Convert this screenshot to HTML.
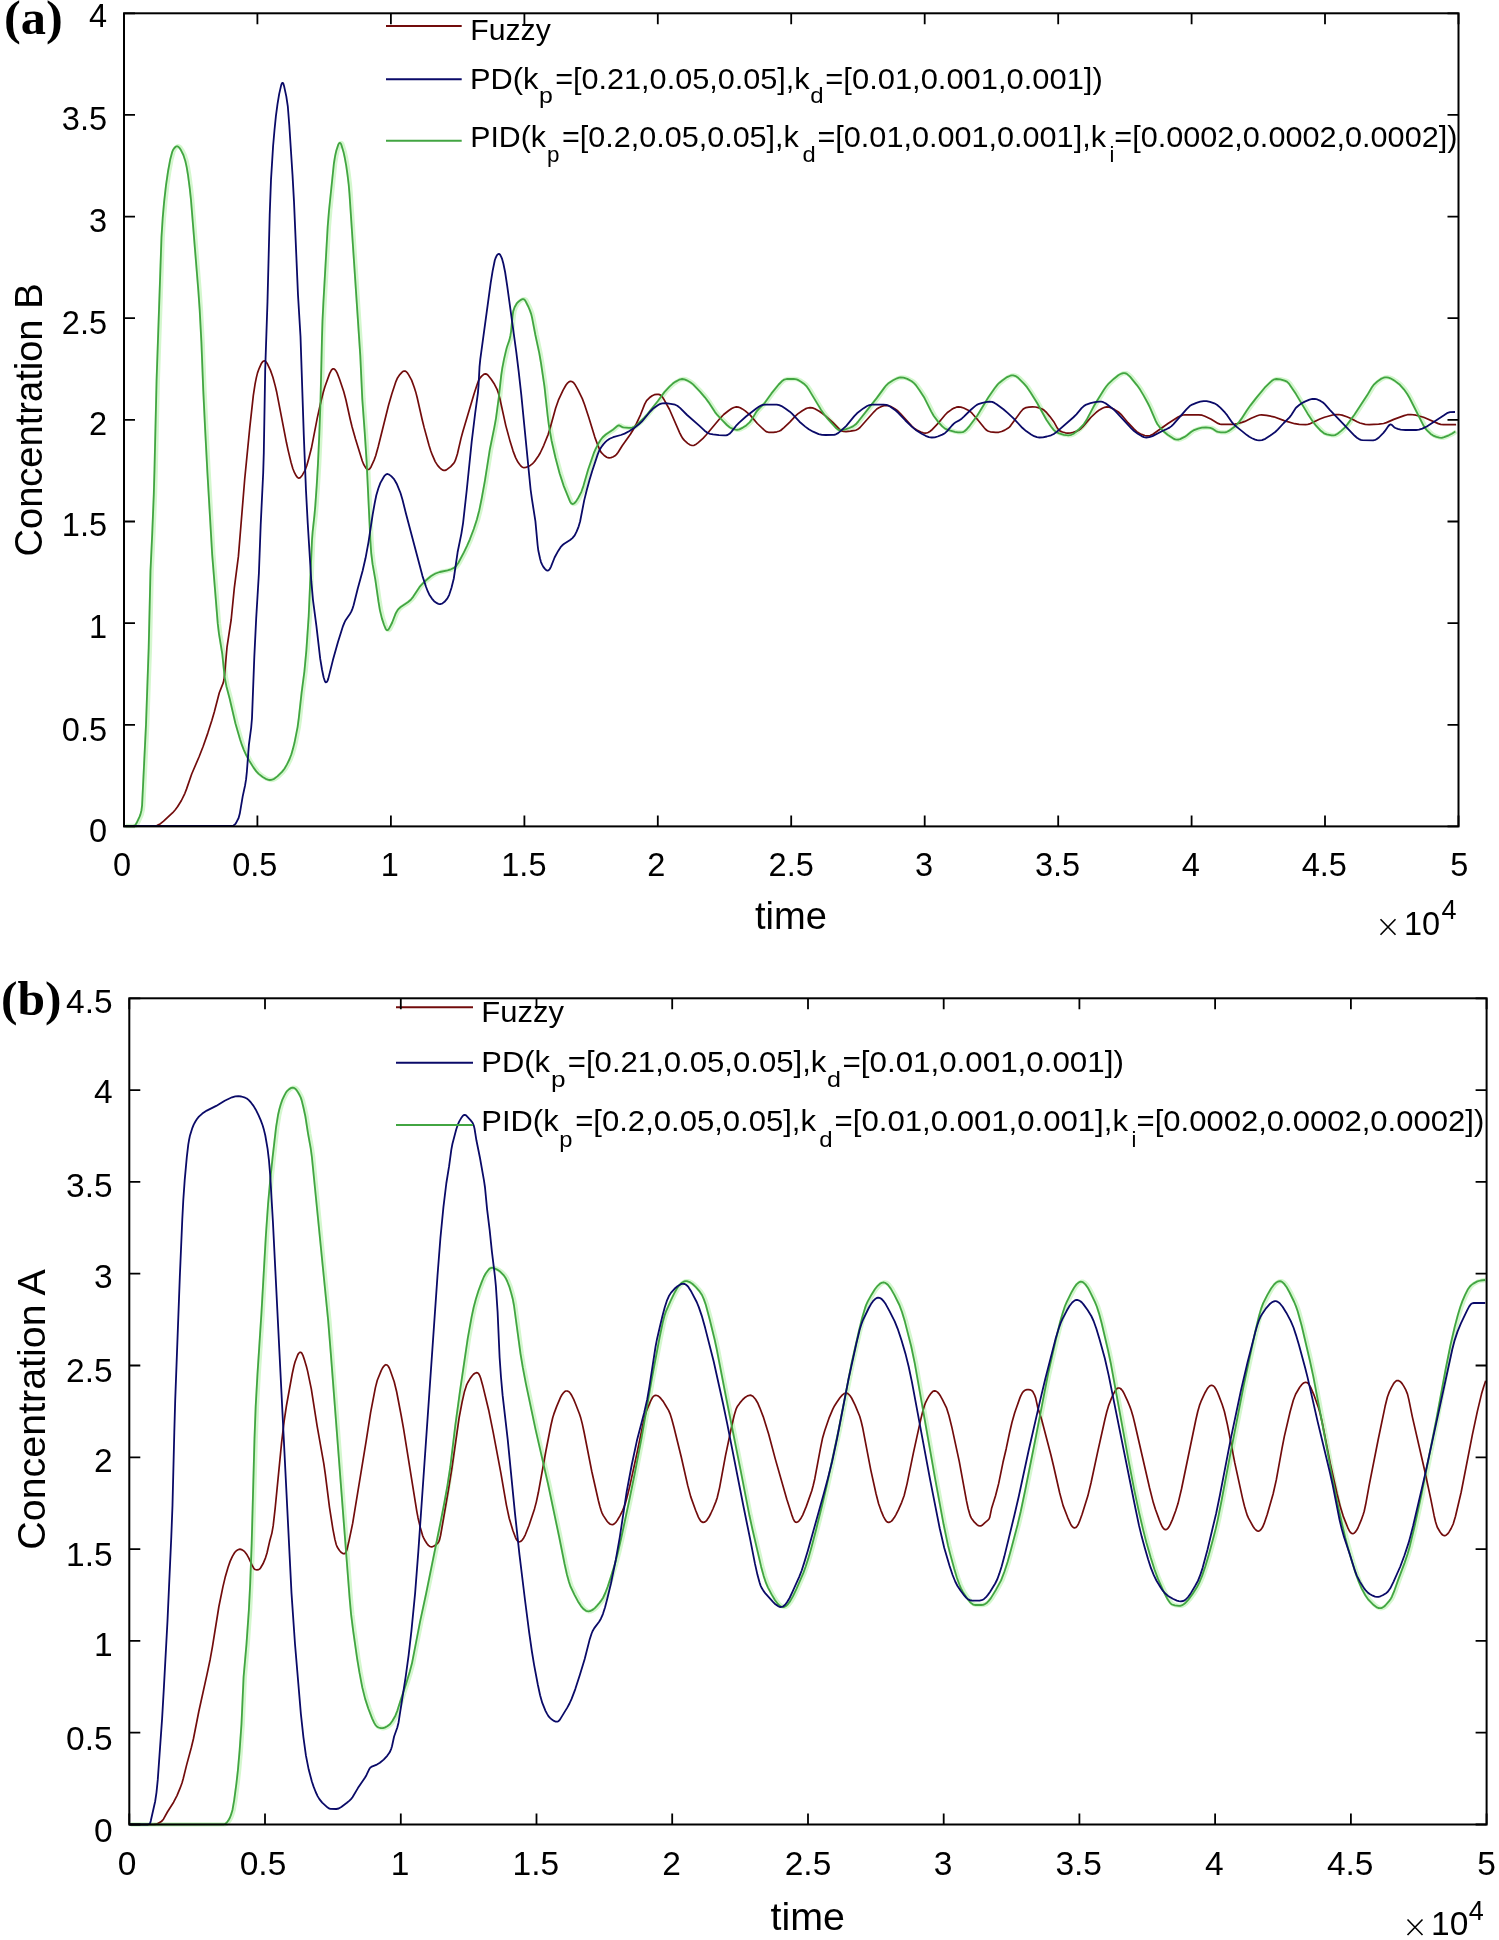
<!DOCTYPE html><html><head><meta charset="utf-8"><style>html,body{margin:0;padding:0;background:#fff;}svg{display:block;}text{-webkit-font-smoothing:antialiased;}text{font-family:"Liberation Sans",sans-serif;fill:#000;}.serif{font-family:"Liberation Serif",serif;font-weight:bold;}</style></head><body>
<svg width="1499" height="1940" viewBox="0 0 1499 1940" style="will-change:transform">
<rect width="1499" height="1940" fill="#fff"/>
<defs>
<path id="a0" d="M124.5 826.0l29 0l2 -.2l1.4 -.3l3.6 -1.8l3.1 -2.5l9.1 -8.5l2.6 -3l2.4 -3.2l3.7 -6l3.5 -7.2l1.6 -4.2l5.2 -15.1l7.5 -17.5l4 -10.2l4.6 -13.2l4.1 -12.9l2.4 -8.2l5 -19.3l3.9 -9.8l.8 -3.4l.5 -3.9l2.5 -28.4l4.2 -27.7l3.1 -31.3l4.1 -31.8l6.3 -77.2l5.1 -51.8l3.5 -31.8l1.8 -11.8l1.3 -6.4l1.2 -4.8l1.6 -4.3l2 -4.5l1.4 -2.1l1.1 -.7l.8 -.1l1.2 .5l1.7 2.4l3 6.3l2.5 7.1l2.2 8.2l1.5 6.3l9.9 51.1l1.7 7.8l2.8 11.6l1.8 6.3l1.7 4.2l1.4 2.6l1.1 1.6l1 .9l.8 .3l.9 -.2l.7 -.4l1.9 -2.3l2.7 -4.8l1.9 -5.2l2 -7.2l2.5 -9.7l5.9 -30.4l3.6 -16.1l2.3 -9.2l1.7 -5.8l4.7 -13.2l1.8 -3.5l1 -1l.8 -.3l.8 .1l1.1 .8l.9 1.2l1.2 2.2l2.2 5.6l4.3 12.8l2.2 8.2l4.3 19.5l1.9 7.8l3.4 12l6.8 22l1.3 3.2l2 3.4l1.3 1.5l1.2 .4l.8 -.1l.7 -.5l1.4 -2l3.1 -6.8l1.6 -4.3l2.5 -9.1l10.4 -41.7l3.2 -11.1l4.1 -12.3l1.6 -3.7l2.3 -3.3l2.3 -2.5l1.2 -.8l.9 -.3l.9 .1l1.2 .6l1 1.1l1.4 2.1l2.9 5.2l2.6 7.1l1.5 4.7l1.4 5.3l5.1 22.5l1.9 7.7l4.9 17.9l1.8 5.7l1.6 4.2l2.8 6.4l2.4 3.8l2 2.2l1.9 1.7l1.2 .8l1.4 .3l.9 0l1.4 -.5l4.3 -3.3l2.7 -2.9l1.2 -1.7l.8 -1.8l2 -6.2l3.6 -15.6l1.8 -6.7l11.3 -37.9l3.1 -9.5l1.6 -4.2l1.6 -2.5l1.3 -1.5l1.5 -1.3l1.2 -.7l.9 -.2l1.4 .3l1.1 .8l3.4 4.3l3.3 5l2.7 5.4l1.3 3.8l1.4 5.3l5.9 26.8l4.5 16.5l2.8 9l2.5 6.5l2.3 4.5l1.8 2.4l1.6 1.9l1.2 .8l1.4 .4l1.9 -.2l1.9 -.7l2.6 -1.3l2 -1.5l1.4 -1.4l1.9 -2.4l2.8 -4.1l1.8 -3l3.6 -7.7l4.3 -10.7l2.2 -7.1l5.3 -19.3l2.8 -8l4.7 -10l2.9 -5.2l1.2 -1.6l1.5 -1.3l1.2 -.7l.9 -.1l.9 .2l1.3 .7l1 1l1.2 1.6l2.7 4.8l4.4 9l2.3 6.1l4.2 12.8l6 19.6l3.3 8.9l1.8 4.2l1.5 2.5l2.8 2.8l2.5 1.7l1.3 .5l1 .1l1.9 -.2l1.9 -.6l2.2 -1.2l1.5 -1.4l1.5 -1.9l4.2 -6.8l8.2 -11.4l3.1 -5.1l3 -5.8l4 -8.6l4.2 -10.7l1.9 -3.5l2.8 -2.8l2.8 -2.1l2.2 -1l2.5 -.4l1.9 .1l1.8 .7l1.7 1.8l1.9 2.9l5.3 9.7l10.2 23.3l1.6 3.2l1.2 2.1l1.9 2.3l3.3 3l2.6 1.6l1.8 .5l2 -.2l2.1 -1.1l2 -1.6l4.8 -4.3l3.1 -3.3l13.8 -16.5l3.8 -4l5.1 -4l2.9 -2l2.2 -1l2.4 -.6l2 .2l1.9 .6l2.1 1.2l2.9 2l5 4.2l7.1 8.4l6.5 6.2l1.5 1.2l1.7 1l1.5 .4l1.4 .1l3.5 -.1l3.5 -.5l1.9 -.5l1.8 -.8l3.4 -2.9l5.8 -5.5l5.8 -6.3l2.2 -1.9l4.5 -3.2l3 -1.8l2.3 -.9l2.5 -.4l2.4 .3l2.3 .9l4.4 2.5l3.3 2.2l2.7 2.2l7.8 7l6.3 6.5l2.4 1.7l1.9 .6l2.4 .1l4.5 -.4l4.4 -.8l1.4 -.4l1.4 -.7l2.3 -1.8l14 -15.7l2.8 -2.8l2.1 -1.3l2.7 -1.3l2.4 -.7l2.5 -.3l1.9 .3l2.4 .8l3.9 2.2l2.5 1.7l3.2 3.1l11.4 12.6l3 2.7l2.5 1.5l3.6 1.7l2.4 .8l2 .3l1.4 -.1l1.4 -.5l1.7 -1l1.6 -1.2l7.6 -8l6 -7.3l2.8 -2.8l3.7 -2.6l2.6 -1.5l2.3 -.9l1.9 -.3l2.5 .2l2.9 .9l4 1.9l2.5 1.6l1.8 1.7l5.3 6l6.9 8.6l1.3 1.5l1.6 1.2l1.3 .7l1.9 .6l5.4 .6l3 -.1l2.9 -.8l3.2 -1.4l3.4 -2.1l1.2 -.9l1.3 -1.5l9.7 -13.3l2.6 -3l1.6 -1.1l1.4 -.6l2.9 -.5l3.5 -.3l3 .2l2.9 .6l3.8 1.4l2.1 1.3l2.5 2.4l3.2 3.9l4.4 6l3.2 5.7l1.5 1.9l1.2 .9l2.3 .9l2.9 .8l2.5 .3l2.4 -.1l3 -.6l3.7 -1.3l2.2 -1.2l1.6 -1.2l2.1 -2.1l7.9 -9.1l6.2 -5.8l2.4 -1.8l3 -1.7l2.3 -.9l2 -.4l2.4 .3l2.4 .8l3.1 1.6l3.8 2.4l2.6 2.3l7 8.4l5.9 6.2l2.9 2.7l2.5 1.7l2.2 1.1l3.3 1.1l2.5 .4l1.4 -.1l1.5 -.3l2.7 -1.3l15.1 -10.7l10.1 -6.5l3.6 -1.6l1.4 -.4l2 -.2l13.5 0l3.5 .4l2.8 1.1l6.3 3l6.8 4.1l1.9 .7l1.5 .2l10.9 .1l2.5 -.3l3 -.6l4.3 -1.1l2.8 -1l6.3 -3.1l6 -2.6l2.4 -.7l1.9 -.1l5 .4l7.3 1.5l10.4 3.8l10.5 3.1l4.5 .7l6.4 .3l2 -.2l1.9 -.6l10.4 -4.9l4.6 -1.8l8.2 -2.2l3 -.4l3 -.1l3.4 .6l4.7 1.6l4.2 1.8l6.1 3.3l2.8 1.2l5.3 1.4l4 .3l9.5 -.5l4.9 -.7l2.8 -.9l7.4 -3.2l10.3 -3.8l3.3 -.9l3.5 -.2l5 .7l7.7 2.1l14.7 6.3l2.3 .8l3 .3l12.5 0"/>
<path id="a1" d="M124.5 826.0l8.5 0l1.4 -.3l1.1 -.8l1.2 -2.1l2.8 -5.9l.9 -2.3l1.1 -4.4l.6 -4.9l3.9 -80.4l2.7 -77l1.8 -77l1.7 -36.4l1.6 -40l.7 -25l2.1 -89.4l4.9 -143l1.2 -18.9l1.4 -16l1.9 -16.9l2.1 -14.3l2.2 -11.8l1.9 -7.2l.8 -1.9l1.4 -2.1l1 -1l1.1 -.7l.9 0l1.2 .7l1 1.1l1.6 2.5l2.2 4.4l2 6.2l1.3 5.9l1.3 7.9l1.7 12.8l1.2 11l7.4 91.2l1.4 19.9l1.7 32l1.9 49l1.8 37.4l2.3 43.9l4.8 82.4l5.6 69.3l1.2 9.9l3.3 20.2l2.3 22.9l1.8 9.3l3.3 12.6l5.7 24.4l4.7 16.3l1.9 5.7l1.8 4.6l2.5 5.5l2.9 5.3l4.2 6.8l2.9 4l2.4 2.5l4 3.1l3 1.8l2.8 1l1.4 .2l1.5 -.2l1.4 -.4l1.4 -.6l3.2 -2.4l4.6 -4.5l2.5 -3.2l2.5 -4.3l2.6 -5.4l1.8 -4.7l1.5 -5.2l1.6 -6.3l3.1 -15.7l1.2 -9l2.8 -25.3l2.8 -21.3l2 -21.4l2.3 -33.9l3.3 -76l.7 -8.9l1.7 -15.4l.9 -10l1.4 -20l1.3 -22.4l1.3 -29l1.2 -32.5l1.5 -64.4l.5 -16.5l.9 -18.5l4.3 -75.9l1.3 -15.9l4.9 -47.3l1.2 -7.4l1.2 -5.4l2 -6.1l.7 -1.2l.6 -.5l.3 0l.6 .3l.5 .7l.5 1.3l2 6.7l1.3 5.9l1.5 8.3l1.2 8.5l1.2 9.9l.8 9.4l10.8 161.7l2 43.4l2.4 32.9l1.9 29l3.8 79.9l.8 12l1.4 11.4l2.7 15.2l3.2 22.3l1.4 8.4l2 8.3l2.2 6.6l1.5 3.7l.8 1.1l.7 .3l.7 -.1l.7 -.5l1.3 -2.1l2.4 -4.9l3.6 -9.3l1.8 -3.1l1.3 -1.5l1.8 -1.6l7.1 -4.7l3 -2.6l2.5 -3.1l6.3 -9.7l2.3 -2.6l3.9 -3.8l5 -4.2l2.5 -1.6l2.2 -1.2l4.3 -1.5l7.8 -1.7l3.3 -1l3.2 -1.4l1.9 -1.6l2.3 -3.3l5.6 -10.6l3 -6.3l3 -6.8l3.9 -10.3l3.1 -9.5l2.4 -9.2l2.4 -11.8l3.2 -17.7l5 -31.6l4.5 -22.1l1.6 -8.8l2.8 -20.8l2.4 -21.9l1.1 -7.4l1.7 -8.8l1.9 -8.3l1 -3.9l2.5 -7.1l1 -4.4l.7 -4.4l1.4 -14.9l.7 -5l1.4 -4.2l2 -3.5l1.3 -1.5l1.5 -1.3l1.6 -1.1l1.4 -.6l1.3 0l.7 .4l.7 .7l.9 1.7l2.5 5l1.5 3.6l1.3 3.8l1 4.4l3.1 16.2l3.9 18.1l1.7 9.9l3.5 23.7l3.2 29.3l1.2 9.5l2.7 15.2l3.9 17.1l4.1 15.4l4.2 12.9l6.2 15.3l1.3 2l1.1 .6l.8 -.1l.8 -.4l1.1 -1l1 -1.1l2.1 -3.4l3.2 -6.2l2 -5.7l4.7 -16.3l5.7 -16.6l2 -4.6l2.5 -4.8l2.1 -3.5l2.1 -2.8l3.3 -3l6.7 -4.4l4.5 -3.9l1.2 -.7l1.3 0l2.4 1.4l1.4 .5l5.4 .5l2 0l1.5 -.2l1.3 -.5l1.7 -1l3.4 -3l5.7 -5.6l3 -3.3l10.6 -13.3l6.5 -8.9l5.1 -5.5l3.3 -3l2.9 -2l3.5 -1.9l1.4 -.4l1.5 -.3l2.4 .3l2.3 1l3.5 1.9l2.8 2.2l6.9 7.2l4.9 5.7l3.6 4.8l6.5 10l2.5 3.1l3.1 3.3l6.3 6.5l2.7 2.2l1.7 1l2.3 1l1.9 .5l1.5 .2l2.4 -.5l3.5 -1.8l3.4 -2.2l3.3 -3l2.1 -2.8l3.6 -6l1.6 -2.5l2 -2.2l5.9 -6.1l6.7 -9.4l7.2 -8.9l3.1 -3.2l2.5 -1.7l2.4 -.6l7 -.1l2.9 .5l2.3 1l2.5 1.6l3.2 2.3l1.8 1.8l3.1 4.5l11.6 19.3l3.7 5.3l3.2 3.9l8.4 9.3l1.9 1.4l1 .3l1.4 .1l3.9 -.6l4.8 -1.6l3.6 -1.6l2.8 -2.1l2.6 -3l18.3 -23.2l7.7 -10.5l1.9 -2.3l1.8 -1.7l5 -3.3l4 -2l1.9 -.6l1.5 -.2l3 .2l3.8 1.2l4.4 2.3l2.3 1.9l2.3 2.6l3.2 4.5l4.9 7.6l6.9 13.8l2.5 4.4l4.8 6.4l3.7 4l2.7 2.2l3.7 1.5l6.2 1.7l3 .5l2.5 .1l2.4 -.3l1.7 -.9l2.3 -2l2.9 -3.4l7.5 -10l10.9 -18l6.2 -9.1l3.4 -4.3l1.8 -1.7l3.1 -2.5l4.5 -3.1l3.2 -1.4l1.5 -.3l1.4 0l2.4 .7l2.8 2l5.3 5.3l3.3 3.8l3.6 5.4l6.4 10.1l9.4 17.1l4.8 7l2.5 3.1l2.3 2l3.1 1.5l4.8 1.4l2.5 .4l1.9 .1l1.5 -.1l1.5 -.4l1.8 -.8l1.6 -1.1l4.6 -3.9l4.2 -4.3l3.5 -5.5l6.5 -12.4l2.5 -4.3l7.9 -12.7l2.3 -3.3l1.9 -2.3l5.9 -5.5l4.3 -3.4l1.7 -1l1.8 -.8l1.5 -.3l1.4 0l1.4 .3l1.3 .8l2.6 2.3l6.9 8.5l3.2 4.5l3.6 6l4.3 7.9l2 4.1l5.7 13.3l1.6 3.1l2.1 2.8l4 4.5l4.2 3.5l5.8 3.8l1.9 .8l1.9 .3l1.5 -.2l1.4 -.4l4.5 -2.2l2.1 -1.4l4.6 -3.8l2.1 -1.3l4.7 -1.8l3.8 -.9l4 -.3l4.4 .5l1.9 .7l4.1 2.7l1.9 .6l2.5 .4l2.5 .1l1.9 -.1l1.9 -.5l1.8 -.9l5.7 -4.1l2.2 -2.1l2.3 -2.6l2.4 -3.2l5.4 -8.4l3.5 -4.9l5.8 -7.5l8.6 -10.4l5.7 -5.6l1.9 -1.6l2.1 -1.2l2 -.3l3.9 .4l4.3 1.2l2.3 1l1.8 1.7l7.3 10.8l11.5 19.3l4.9 7.5l3.6 4.8l4.8 5.1l3.2 2.5l2.7 1.1l4.9 1l2 0l1.4 -.3l2.6 -1.4l3.6 -2.8l3.3 -3l2.9 -3.5l7 -9.7l12.9 -19.6l4.6 -7.8l1.7 -2.4l3.7 -3.4l3.6 -2.6l2.7 -1.2l1.5 -.3l1.5 -.1l1.9 .4l1.9 .6l2.2 1.2l2.5 1.6l4.8 3.7l4 4.5l3.2 4.4l2.5 4.3l14.2 28.1l1.4 2.1l1.6 1.9l3.9 3.8l2.5 1.7l3.2 1.3l2.9 .8l2.5 .1l2.4 -.6l4.6 -1.9l3.1 -1.6l3.4 -2.2"/>
<path id="a2" d="M124.5 826.0l107.5 -.1l1.4 -.3l.8 -.5l1 -1l.9 -1.2l2.5 -4.9l1.2 -4.4l2.9 -17.2l2.4 -11.2l1 -6l.8 -7.9l2 -26.4l2.3 -17.4l.8 -9.5l2.3 -60.9l1.9 -39l2.7 -44.9l1.8 -48.4l2.5 -52l.6 -20l1.4 -83l2.3 -68.4l2.2 -86.5l1.3 -35l2.1 -33.9l1.4 -16l1.4 -13.9l1.6 -11.9l1.7 -10.3l2 -8.8l.5 -1.4l.6 -.8l.5 0l.5 .5l.9 3.2l2.1 9.8l1.5 9.9l1.5 18.9l3.2 49.4l1.5 27l4 93.4l2.5 41.4l3.3 99l2.2 55.4l1.7 32l3.6 58.4l1.7 18.9l3.4 25.8l3.8 32.8l1.9 11.3l1.5 7.3l1.2 3.8l.5 .8l.5 .4l.7 -.1l.5 -.5l.7 -1.3l.6 -1.8l4.6 -18.5l5 -17.8l5.1 -16.2l1.3 -3.3l1.3 -2.6l4.3 -6.2l1.5 -2.6l1.1 -2.8l1.1 -3.3l4.1 -16.5l5 -18.3l2.8 -12.2l3 -16.2l4.2 -27.7l2.1 -11.8l1.5 -7.4l2 -6.7l2.1 -5.6l3.2 -5.7l1.1 -1.6l1.1 -1l.8 -.4l.9 -.2l1.7 .6l2 1.5l2.4 2.5l1.4 2.1l1.7 3l3.8 9.3l2 6.7l3.5 14l16.5 62.4l3.6 10.9l1.6 4.2l1.5 3.2l2.7 4.2l2.2 2.6l2.9 2l1.4 .6l1.4 .3l.9 -.1l1.4 -.4l2.4 -1.8l2.9 -3.4l1.8 -3.6l2.3 -7.1l2.3 -9.2l3.8 -26.2l3.8 -18.7l1.7 -10.8l3.6 -32.3l5 -48.8l3.5 -28.7l2.7 -19.9l.6 -6.9l1 -19l.8 -8l10.4 -76.3l1.9 -11.8l2.2 -10.8l.8 -2.3l1.1 -2.3l.8 -1.2l1 -.6l.7 .1l1 .8l.9 1.8l1 2.3l1.3 4.8l1.7 8.3l2.1 13.8l9.1 66.4l2.4 19.4l2.6 23.3l9.3 94.6l1.3 9.4l3.5 22.2l2.2 23.9l.7 5.5l1.8 8.3l.9 3.3l1 2.3l1.2 2.2l1.5 2l1.4 1.4l1.2 .6l1.2 -.2l1.3 -1.4l1.1 -2.2l3.7 -9.3l3.6 -6.6l2.4 -3.7l1.7 -1.9l1.9 -1.6l5.9 -3.7l2.3 -1.9l2.3 -2.7l2 -4l2 -5.1l1.4 -4.8l4.1 -21.1l2.5 -10.2l2.8 -10.1l2.7 -9.1l5.5 -16.6l1.7 -4.2l1.8 -3l2.1 -2.8l2 -2.2l2.2 -2l2.1 -1.4l3.6 -1.6l7.7 -2.2l3.7 -1.4l4.9 -2.6l5 -3.3l4.7 -3.7l2.6 -2.3l8 -9.7l3.1 -3.2l2.4 -1.8l3.3 -2.2l1.8 -.9l1.9 -.6l3.4 -.1l5 .6l4.4 .9l2.2 1l2.7 2.2l7.1 7.1l12.4 10.9l5.1 4.8l3.2 2.3l2.3 .9l3 .5l5.9 .7l5.5 .3l1.5 -.1l1.5 -.3l2 -1.2l2.1 -2.2l4.9 -6.3l2.4 -2.5l7.1 -6.3l10.3 -8l2.5 -1.7l2.1 -1.2l1.9 -.7l2.5 -.3l11.5 .1l2.4 .5l2.3 .9l3.8 2.4l4.5 3.2l2.2 2l7.5 8l5.7 4.9l3.6 2.7l4.3 2.4l5.6 2.4l3.4 .8l3.4 .1l8.5 -.1l1.9 -.6l2.2 -1.2l2.7 -2.2l5.5 -5.1l8 -9.6l2.7 -2.9l6.3 -4.9l3.8 -2.4l2.3 -.9l2.5 -.5l11.5 0l2.9 .3l1.9 .6l1.8 1l5.7 4l2.5 2.4l7.2 7.6l6.9 6.6l3.4 2.8l6 3.8l3.9 2.1l3.3 1.3l2.9 .4l3 -.2l2.9 -.8l4.6 -1.9l2.6 -1.4l2.2 -2l4.9 -5.7l2.1 -2.1l1.6 -1.2l4 -2.1l2 -1.4l2.2 -2l6.7 -6.7l4.2 -3.6l2 -1.5l2.3 -1.1l3.3 -1l3.4 -.7l3.5 -.4l2.9 .2l2.3 1l2.1 1.3l6.8 5.1l4.2 3.6l6.2 5.8l8.5 9.1l3.8 3.3l5 3.4l3 1.7l2.8 1l2.5 .3l3.5 -.2l3.9 -.8l4.3 -1.2l2.7 -1.3l3.2 -2.4l16.2 -14.1l3.2 -3.2l5.2 -6.1l2.5 -2.3l2.2 -1.3l4.2 -1.4l4.4 -1l4 -.5l2.5 0l1.9 .5l2.2 1.1l2.4 1.7l4.8 3.7l2.9 2.7l15.7 16.9l2.8 2.7l3.7 2.7l3.8 2.4l2.3 1l2.4 .4l2.9 -.3l3.3 -1.1l8.9 -4.6l5.9 -2.7l2.2 -1.2l2 -1.5l1.8 -1.8l13.1 -15l3.3 -3.2l2.5 -1.5l4.2 -1.7l3.8 -1.2l3.4 -.6l3 0l3.4 .7l4.3 1.5l2.6 1.4l3.4 2.9l4.8 5.1l2.2 2.7l4.8 7l1.7 1.9l2.6 2.3l10.5 8.5l2.4 1.7l2.7 1.4l3.2 1.4l1.9 .5l2 .3l2.9 -.3l3.3 -1.3l5 -3.2l4.9 -3.6l2.5 -2.4l6.1 -6.6l5.7 -5.6l1.8 -2.4l4 -6.3l1.3 -1.5l2.3 -2l2.8 -2l3.1 -1.6l4.7 -1.9l2.9 -.7l2.4 -.1l2.5 .6l3.2 1.4l2.5 1.6l1.8 1.7l5 5.6l24.9 26l2.2 1.9l2.1 1.4l1.8 .8l1.5 .3l10.9 .1l2 -.4l1.3 -.6l2.4 -1.8l4.5 -4.7l1.6 -1.9l3.4 -4.9l1 -1l.8 -.5l.8 0l.8 .3l2.3 2.4l1.3 .8l2.3 .9l2.9 .7l2.5 .3l2.4 .1l10.5 0l3 -.3l3.3 -1.1l4.5 -2.1l16.8 -10.9l4.1 -2.8l2.3 -.7l5 -.1"/>
</defs>
<use href="#a1" fill="none" stroke="#d4f7ce" stroke-width="4.4" stroke-linejoin="round" transform="translate(1.2 0)"/>
<use href="#a0" fill="none" stroke="#720c0c" stroke-width="1.7" stroke-linejoin="round"/>
<use href="#a1" fill="none" stroke="#42a542" stroke-width="1.8" stroke-linejoin="round"/>
<use href="#a2" fill="none" stroke="#0a0a68" stroke-width="1.8" stroke-linejoin="round"/>
<line x1="386.0" y1="26.0" x2="461.7" y2="26.0" stroke="#720c0c" stroke-width="2"/>
<line x1="386.0" y1="79.3" x2="461.7" y2="79.3" stroke="#0a0a68" stroke-width="2"/>
<line x1="386.0" y1="140.7" x2="461.7" y2="140.7" stroke="#42a542" stroke-width="2"/>
<path d="M124.0 826.4v-11M124.0 13.3v11M257.4 826.4v-11M257.4 13.3v11M390.9 826.4v-11M390.9 13.3v11M524.4 826.4v-11M524.4 13.3v11M657.8 826.4v-11M657.8 13.3v11M791.2 826.4v-11M791.2 13.3v11M924.7 826.4v-11M924.7 13.3v11M1058.2 826.4v-11M1058.2 13.3v11M1191.6 826.4v-11M1191.6 13.3v11M1325.0 826.4v-11M1325.0 13.3v11M1458.5 826.4v-11M1458.5 13.3v11M124.0 826.4h11M1458.5 826.4h-11M124.0 724.8h11M1458.5 724.8h-11M124.0 623.1h11M1458.5 623.1h-11M124.0 521.5h11M1458.5 521.5h-11M124.0 419.8h11M1458.5 419.8h-11M124.0 318.2h11M1458.5 318.2h-11M124.0 216.6h11M1458.5 216.6h-11M124.0 114.9h11M1458.5 114.9h-11M124.0 13.3h11M1458.5 13.3h-11" stroke="#000" stroke-width="1.8" fill="none"/>
<rect x="124.0" y="13.3" width="1334.5" height="813.1" fill="none" stroke="#000" stroke-width="2"/>
<text x="122.0" y="876.0" font-size="32.5" text-anchor="middle">0</text>
<text x="254.8" y="876.0" font-size="32.5" text-anchor="middle">0.5</text>
<text x="389.7" y="876.0" font-size="32.5" text-anchor="middle">1</text>
<text x="523.9" y="876.0" font-size="32.5" text-anchor="middle">1.5</text>
<text x="656.3" y="876.0" font-size="32.5" text-anchor="middle">2</text>
<text x="791.2" y="876.0" font-size="32.5" text-anchor="middle">2.5</text>
<text x="924.0" y="876.0" font-size="32.5" text-anchor="middle">3</text>
<text x="1057.5" y="876.0" font-size="32.5" text-anchor="middle">3.5</text>
<text x="1190.9" y="876.0" font-size="32.5" text-anchor="middle">4</text>
<text x="1324.3" y="876.0" font-size="32.5" text-anchor="middle">4.5</text>
<text x="1459.3" y="876.0" font-size="32.5" text-anchor="middle">5</text>
<text x="107.0" y="842.2" font-size="32.5" text-anchor="end">0</text>
<text x="107.0" y="740.5" font-size="32.5" text-anchor="end">0.5</text>
<text x="107.0" y="637.8" font-size="32.5" text-anchor="end">1</text>
<text x="107.0" y="535.9" font-size="32.5" text-anchor="end">1.5</text>
<text x="107.0" y="435.3" font-size="32.5" text-anchor="end">2</text>
<text x="107.0" y="333.8" font-size="32.5" text-anchor="end">2.5</text>
<text x="107.0" y="232.1" font-size="32.5" text-anchor="end">3</text>
<text x="107.0" y="129.5" font-size="32.5" text-anchor="end">3.5</text>
<text x="107.0" y="26.9" font-size="32.5" text-anchor="end">4</text>
<text x="791.0" y="929.4" font-size="38.1" text-anchor="middle">time</text>
<text transform="translate(42.0 420.0) rotate(-90)" x="0" y="0" font-size="38.1" text-anchor="middle">Concentration B</text>
<path d="M1380.5 919.3l15 15.5M1395.5 919.3l-15 15.5" stroke="#000" stroke-width="1.6" fill="none"/>
<text x="1404.0" y="935.0" font-size="32.5">10</text>
<text x="1441.5" y="919.2" font-size="27">4</text>
<text class="serif" x="4.0" y="33.5" font-size="48" textLength="58.8" lengthAdjust="spacingAndGlyphs">(a)</text>
<text x="470.31" y="39.90" font-size="29.5" textLength="80.45" lengthAdjust="spacingAndGlyphs">Fuzzy</text>
<text x="469.96" y="88.50" font-size="29.5" textLength="68.43" lengthAdjust="spacingAndGlyphs">PD(k</text>
<text x="538.98" y="103.30" font-size="22" textLength="13.84" lengthAdjust="spacingAndGlyphs">p</text>
<text x="555.15" y="88.50" font-size="29.5" textLength="254.45" lengthAdjust="spacingAndGlyphs">=[0.21,0.05,0.05],k</text>
<text x="810.38" y="103.30" font-size="22" textLength="13.35" lengthAdjust="spacingAndGlyphs">d</text>
<text x="825.33" y="88.50" font-size="29.5" textLength="277.42" lengthAdjust="spacingAndGlyphs">=[0.01,0.001,0.001])</text>
<text x="470.31" y="147.00" font-size="29.5" textLength="75.60" lengthAdjust="spacingAndGlyphs">PID(k</text>
<text x="547.14" y="161.80" font-size="22" textLength="12.48" lengthAdjust="spacingAndGlyphs">p</text>
<text x="562.05" y="147.00" font-size="29.5" textLength="236.79" lengthAdjust="spacingAndGlyphs">=[0.2,0.05,0.05],k</text>
<text x="802.49" y="161.80" font-size="22" textLength="13.22" lengthAdjust="spacingAndGlyphs">d</text>
<text x="817.45" y="147.00" font-size="29.5" textLength="288.54" lengthAdjust="spacingAndGlyphs">=[0.01,0.001,0.001],k</text>
<text x="1109.60" y="161.80" font-size="22" fill="#555">i</text>
<text x="1114.25" y="147.00" font-size="29.5" textLength="343.18" lengthAdjust="spacingAndGlyphs">=[0.0002,0.0002,0.0002])</text>
<defs>
<path id="b0" d="M129.5 1824.5l24.5 -.1l1.5 -.1l1.9 -.6l3.5 -1.9l1.5 -1.3l1.2 -1.6l3.8 -6.9l6.2 -9.8l3.4 -6.6l3.1 -7.4l1.9 -5.2l1.2 -4.3l3.5 -14.1l4.7 -17.3l2.1 -8.8l5.3 -27l8.2 -37.1l3.2 -15.2l2.3 -12.8l6.4 -39.9l4 -19.6l2.2 -9.3l2.9 -10.1l2.1 -6.1l2.3 -5l2.3 -3.9l1 -1.1l1.5 -1.2l1.3 -.7l1.4 -.3l.9 .2l1.4 .5l1.7 1.1l1 1l2.1 2.8l1.7 3.1l3.1 6.8l2.2 3.9l1.1 .9l1.8 .4l1.8 -.3l.8 -.5l1 -1.1l2.5 -4.2l2.5 -6l1.5 -4.8l2.8 -12.2l2.1 -7.7l1.3 -7.4l1.9 -16.9l6.5 -66.2l2.5 -21.3l2.3 -15.3l5.8 -32l1.8 -8.3l1.1 -3.9l2.3 -6.1l1.1 -2.2l1.3 -1.2l1.1 0l.9 .8l1.1 2.2l1.3 3.8l2.3 7.7l1.1 4.3l3.7 17.7l5.8 37l6.7 37.9l1.5 10.4l4.2 33.2l3.4 21.8l2 10.3l1.4 5.3l.7 1.8l1 1.8l1.7 2.4l1.3 1.5l1.6 1.2l1.3 .4l.8 -.2l.9 -.9l.7 -1.3l.8 -2.3l1.6 -6.8l4 -19.1l13.4 -81.9l4.5 -28.7l4.8 -25l1.9 -7.3l3.9 -9.7l1.4 -2.7l1.1 -1.6l1 -1l1.2 -.6l1.2 .3l1 1l1 1.7l1 2.3l4.1 11.8l2.5 10.2l4.4 23l2.4 13.3l13.3 83l1.2 6.4l2.3 9.7l2.3 8.2l1 2.3l1.4 2.6l1.9 3l1.5 1.9l1.6 1.1l1.4 .3l1.4 -.2l1.8 -.9l2 -1.5l1.4 -1.4l.8 -1.2l.6 -1.4l1.2 -4.8l7.8 -45.3l3.5 -21.8l7.2 -50.4l3 -15.8l2.4 -10.7l2 -6.2l1.3 -2.7l2 -3.4l2 -2.9l1.7 -1.9l1.5 -1.1l1.3 -.5l1.3 .1l1 .9l1 1.7l1.1 2.8l2 7.2l6 24.8l4.5 22.1l7.6 40.3l5.6 32.5l2.8 13.2l3.6 11.9l2.6 7.1l1.1 2.2l.8 1.2l1.1 .9l.8 .2l1.3 -.3l1.5 -1.2l1.7 -2.4l1.6 -3.1l3.7 -9.3l5.5 -16.6l1.8 -6.8l2 -9.3l7.5 -41.3l5.1 -26l1.8 -7.8l1.2 -3.8l2.8 -7.5l3.7 -8.8l1.4 -2.6l1.5 -2l1.4 -1.4l1.2 -.6l1.4 0l1.7 .8l1.3 1.5l1.6 2.5l1.8 3.6l1.9 4.6l3.8 9.8l1.4 4.3l1.5 5.8l1.7 7.8l7.8 39.8l6.5 28.7l1.6 6.3l1.3 4.3l.9 2.3l1.1 2.3l3.9 5.8l1.3 1.5l1.5 1.3l1.3 .5l1 .1l1.3 -.3l1.2 -.8l1.4 -1.4l1.4 -2.1l2.3 -3.9l2.9 -5.8l2.4 -6l2 -7.2l2.5 -10.2l7.7 -35.2l5.4 -26.4l2.2 -9.3l1.8 -5.7l3.9 -9.2l2.1 -3.9l1 -1.1l.8 -.5l1.3 -.3l1.9 .5l1.6 1.1l1.7 1.8l2.2 2.7l2.6 4.3l2.8 4.7l1.4 3.2l1.8 5.7l2.2 8.2l7.2 29.2l6.5 28.7l3 11.2l4.9 13.6l2.8 6.9l1.2 2.2l1.1 1.7l1.1 .9l1.3 .5l1.3 -.2l1.6 -1.1l1.3 -1.5l1.7 -2.5l1.8 -3.6l2.1 -4.5l3 -7.4l1.3 -3.8l2.4 -10.2l5.9 -32l6.4 -30.3l2.4 -10.3l1.9 -6.2l1.3 -2.6l2.4 -3.3l2.9 -3.4l2.6 -2.3l2.1 -1.3l2.4 -.7l1.4 .2l1.6 .9l2.6 3l2.1 3.4l2.2 5.1l3.4 8.8l5.5 17.7l6.7 25.1l11.4 39.9l4.9 15.3l1.5 4.2l1.4 2.6l1.1 .8l.8 .1l1.3 -.4l1.5 -1.3l1.7 -2.4l1.7 -3.1l3.6 -8.7l5.5 -15.6l1.4 -5.3l1.6 -6.8l5.6 -30l2.2 -10.8l2.1 -7.2l4.2 -12.3l3.9 -9.2l1.8 -3.5l1.9 -3l3.4 -4.9l2.3 -2.7l1.9 -1.5l1.8 -.5l1.4 .2l1.2 .8l1.4 1.4l1.7 2.5l3.5 7.1l4.6 11.2l1.5 5.2l1.6 6.8l7.9 41.3l5.4 24.4l2.5 9.7l2.3 6.6l2.5 6l1.9 3.5l1.2 1.6l1.1 .8l.9 .2l1.4 -.3l1.6 -1l1.3 -1.5l1.5 -2l1.7 -3l2.5 -4.9l3.2 -7.4l2.4 -6.5l3 -12.2l6.3 -30.8l7.3 -33.2l2.2 -8.8l1.7 -5.7l1.1 -2.8l1.6 -3.1l2 -3.5l1.7 -2.4l1.4 -1.5l1.2 -.7l.9 -.2l1.4 .2l1.6 1l1.3 1.5l1.7 2.5l1.7 3l4.2 8.5l2.6 8.1l3 12.2l7.3 33.7l7.2 39.3l1.7 7.8l1.5 5.3l.8 2.4l.9 1.8l3 4l2.8 2.7l1.3 .8l1.4 .3l.9 -.1l1.3 -.6l2.9 -2.7l2.7 -2.2l1.3 -1.4l.8 -1.8l1.9 -9.3l3.9 -12.4l3.1 -12.1l4.3 -21.1l3.2 -13.6l3.4 -16.2l2.4 -10.2l2.7 -9.6l5.3 -15.1l1 -2.3l1.2 -2.2l1.2 -1.6l1.1 -.9l1.3 -.7l1.4 -.3l1.5 0l1.5 .2l1.3 .6l1.3 1.3l1.7 3.1l1.2 3.3l1.9 8.8l4.1 12.8l9.1 34.8l2.7 11.2l6.2 27.3l3.4 12.6l4.5 11.7l2.8 6.4l1.2 2.1l1 1.1l1.1 .8l.9 .2l1.2 -.4l1 -.9l1.4 -2.1l1.2 -2.8l2.7 -7.5l5.7 -18.1l3.2 -13.1l6.4 -29.9l7.5 -33.6l1.9 -7.8l1.7 -5.8l2.7 -7l2 -4.5l1.7 -3.1l1.1 -1.6l1 -1.1l1.2 -.6l.9 0l1.3 .5l1.1 1l1.2 1.5l1.2 2.2l3.6 7.7l2.3 5.5l1.4 3.8l1.7 5.7l1.8 7.3l14.9 64.8l3.7 14.6l2.1 6.6l3.8 10.4l1.8 4.6l1.1 2.3l1.1 1.6l1 1l1.2 .5l1.3 -.3l1.1 -.9l1.2 -1.6l1.4 -2.6l2 -4.6l3.3 -8.9l2.3 -7.1l3.5 -14.6l14.3 -69l1.9 -8.3l1.8 -6.3l1.4 -3.7l2.5 -5.5l1.9 -4l1.8 -3.1l1.1 -1.6l1.4 -1.4l1.3 -.7l1.3 0l1.3 .6l1 1l1.1 1.7l1.4 2.6l1.9 4.6l3.2 8.4l2.3 7.2l3 13.1l7.4 38.3l7.8 35.7l1.9 7.7l1.7 5.8l1.1 3.3l1.2 2.8l4.6 8.3l1.4 2l1.4 1.5l1.2 .8l1.3 .3l1.3 -.4l1.4 -1.3l1.4 -2.1l1.6 -3.6l3.2 -9.5l5.8 -20.2l3.2 -14.1l5.7 -31.5l2.3 -11.8l5.8 -24.8l3.2 -11.6l2.3 -6l4.1 -6.9l1.8 -2.4l1.4 -1.4l1.2 -.8l1.4 -.4l1.3 .2l1.2 .8l1.2 1.5l1.5 2.6l3.2 7.4l4.7 13.2l1.7 6.2l1.9 8.3l8 40.7l6.9 30.8l3.3 13.1l2.8 9l5 12.6l1.2 2.2l1.1 1.6l1.1 .9l1.3 .2l1.2 -.4l1.1 -1l1.2 -1.6l1.5 -2.6l3.3 -7.8l2 -5.7l1 -3.3l1.5 -6.9l3.5 -19.1l8.9 -45.2l7 -33.7l2.3 -9.3l1.9 -5.1l2.2 -4.5l1.7 -3.1l1.4 -2l1.1 -1l1.2 -.7l.9 -.1l.9 .2l1.3 .7l1.1 1l1.2 1.5l1.6 2.5l1.9 3.5l1.7 4.2l1.4 5.8l3.4 16.7l12.2 53.1l6.1 28.4l3.5 17.6l1.5 6.3l1.7 5.3l2.8 4.7l1.5 2l1.1 1l1.2 .6l.9 .1l1.3 -.5l1.5 -1.3l1.5 -2l2 -3.4l2.1 -4.5l2.3 -7.7l5.6 -23.8l11.3 -57.9l4.9 -23l4.2 -17.5l2.1 -7.2l2.1 -6.2"/>
<path id="b1" d="M129.5 1824.5l94 -.1l1.4 -.4l1.1 -.8l1.4 -1.4l1.4 -2.1l1.2 -2.2l.9 -2.3l1.6 -5.3l1.7 -9.8l2.2 -16.4l1.5 -13.4l1.7 -19.4l1.9 -26.9l2.1 -47l2.9 -32.9l2.4 -34.4l1.3 -25.9l1.5 -40.5l2.8 -104.5l1.2 -32.4l1.8 -32.5l3.9 -59.9l4.5 -78.8l2.2 -31.5l2.1 -23.4l2.4 -22.9l3.5 -30.2l1.9 -11.9l1.3 -5.8l1.5 -5.3l1.5 -4.3l1.9 -4.1l1.6 -3l1.5 -2l1.9 -1.7l2.1 -1.2l1.4 -.3l1.4 .3l1.2 .8l1 1.1l1.7 2.5l1.7 3l1.1 2.3l.9 2.8l1.7 6.8l2 9.3l2.7 17.3l2.6 14.3l1.2 8.9l16.3 163.7l2.6 32.4l18.8 244.7l1.5 16.5l2.2 17.3l3.9 27.3l2.2 13.3l2.9 15.2l2.8 11.2l3.2 9.9l3.8 9.8l2.1 4.6l1.3 2.1l1.3 1.5l1.7 1l2.3 .7l2 0l1.9 -.6l2.6 -1.4l2 -1.4l1.4 -1.5l1.5 -2l3.2 -5.6l2 -5.1l3.3 -10.5l5.2 -15.7l3.8 -12.4l2.3 -8.7l8.1 -41.7l6.1 -28.4l14.2 -70.1l3.9 -20.1l3.1 -17.2l2.9 -18.8l4.9 -40.7l4.8 -35.2l7.8 -52.9l3.8 -21.1l2.1 -9.8l2.2 -8.2l2.5 -8.1l3.3 -8.9l2.1 -5.1l1.9 -3.5l3 -4l1.1 -1l.9 -.4l.9 -.3l1.4 .1l1.9 .6l2.2 1.1l3.3 2.2l3.2 3.3l2 2.8l1.7 3.6l2 5.1l1.9 6.3l1.5 5.8l1.3 6.8l6.5 48.1l2.3 13.8l3.1 16.2l9.6 45.5l12.5 54.6l11.3 53.8l5.3 26.5l2.4 10.7l2 7.3l1.6 4.7l3.9 8.1l3.5 6.6l3 4.7l2.6 3l2.4 1.7l1.4 .4l1 .1l1.4 -.1l1.8 -.8l1.7 -1l1.5 -1.3l2.1 -2.2l2.6 -3l2.1 -2.8l1.4 -2.1l2.3 -5l2.5 -6.5l2.8 -8.6l4.3 -13.8l2.9 -11.1l3.4 -14.7l8.2 -38.6l5 -24.5l7.2 -37.3l10.3 -59.6l7.8 -41.3l3.3 -15.6l1.7 -6.3l1.5 -4.3l4.4 -10l3.5 -7.2l2.7 -4.8l2.6 -3.7l2.5 -2.4l2.1 -1.2l1.5 -.3l1.4 0l2.8 .9l2.9 1.9l3.3 3.1l3.9 4.6l2.2 3.3l1.8 4.1l2 5.7l4 15l4.9 19.9l2 9.3l9.5 49l14.2 71.1l9 46.2l3.1 14.2l8.7 37.4l2.5 9.2l2.4 7.1l1.8 4.1l3.7 7.1l3.3 5.6l3 4l1.5 1.4l1.2 .8l1.3 .6l1.4 .2l1 -.1l1.3 -.6l2.3 -2l2.3 -3.2l2.7 -4.7l3.7 -7.7l6.9 -16.1l2.2 -6.1l2.6 -8.1l3.4 -12l4.2 -16l6 -24.2l4.7 -20l12 -56.2l13.1 -67.3l7 -30.7l3.3 -13.6l3.1 -10.5l1.2 -3.3l1.5 -3.2l3.9 -7l3.2 -5.1l2.8 -3.5l2.6 -2.3l1.3 -.6l1.4 -.4l1 0l1.4 .4l1.2 .8l1.5 1.3l2.7 3.6l3.7 6.5l4.9 9.9l2.6 7l2.9 9.6l6.3 24.7l3.6 17.1l20.7 117.2l8.2 44.2l4.3 20.6l2.1 8.2l4.2 15.5l2.6 8.6l2.4 6.6l1.7 4.1l1.9 3.5l4.1 6.3l2.8 3.6l1.4 1.3l1.6 1.2l1.4 .5l1.5 .2l5.4 0l2 -.2l1.9 -.7l2 -1.4l1.7 -1.8l2.2 -2.8l4.9 -8l5.3 -9.7l3.4 -8.9l3.1 -9.5l3.6 -13l6.5 -24.6l3.1 -13.2l4.3 -20.5l10.5 -52.5l12.5 -64.3l7.7 -34.1l4.5 -18.5l2.5 -8.6l2.2 -6.7l1.8 -4.1l4.4 -9l2.9 -5.2l2.4 -3.3l2.2 -1.9l1.3 -.6l.9 -.2l1 .1l1.3 .6l2.2 2l2.6 3.6l2.8 5.3l4.1 8.6l1.9 4.6l2.3 7.1l2.6 9.7l6.4 27.2l2.9 13.8l17.6 96.4l5.5 28.4l5 23.5l4 17l3.2 12.6l4.4 15.4l3.8 11.9l3.3 8.9l6.3 14.2l3.5 6.7l2.2 3.2l1 1.1l1.2 .9l2.8 .9l4 .5l1.5 -.1l1.4 -.4l1.7 -.9l1.6 -1.2l3.4 -3.7l4.2 -5.6l4.3 -6.7l2.3 -4.5l2.9 -6.9l3.2 -9.4l3.6 -12l4.7 -17.4l2.1 -8.2l2.1 -9.3l3.8 -19.1l8.4 -44.7l13.7 -70.2l11.4 -53.3l4 -16.5l2.1 -7.2l1.9 -5.2l4.3 -8.5l3.7 -6.4l3 -4l2.6 -2.3l1.4 -.7l.9 -.2l.9 -.1l1.4 .3l1.3 .8l1.4 1.3l2.7 3.7l2.9 5.2l4.6 9.5l1.7 4.1l1.8 5.2l4 14.5l8.1 34.5l3.6 16.6l10 52.6l9.1 49.2l5.5 26.9l4 18.1l3.3 14.1l2.7 10.1l4.3 14.9l3.5 11l3.1 8.4l2.8 6.4l3.6 6.6l3.1 4.5l5.3 5.4l3.2 2.3l1.4 .6l1.4 .2l1.4 -.1l1.4 -.5l1.3 -.8l1.5 -1.3l4.2 -4.9l1.2 -1.7l1.2 -2.2l2.1 -5l4 -11.3l6.7 -17.8l2.9 -8.6l2.3 -8.1l4.6 -19l7 -32.7l14.9 -75.1l9.3 -50.1l4.7 -23.5l4.4 -19l3 -11.2l2.4 -8.1l2.2 -6.1l2.8 -6.4l2.4 -4.9l2.3 -3.3l1.4 -1.4l2 -1.5l4 -2.2l3.3 -.9l4.5 -.5"/>
<path id="b2" d="M129.5 1824.5l18 0l1.4 -.3l.9 -.7l.5 -.8l.5 -1.9l4.4 -19.6l1.3 -8.9l1.3 -12.9l4.3 -60.8l1.7 -29.5l3.7 -68.4l3.8 -83.9l1.2 -31.5l1.8 -73l.9 -31.9l4.6 -123l2.5 -58.4l1 -19l1.4 -19.9l2.1 -22.9l1.5 -12.9l.7 -4l1 -4.9l2.4 -7.6l1.3 -3.2l1.7 -3.1l1.6 -2.5l1.9 -2.4l3.4 -3l4.5 -3l9.4 -4.7l8.5 -5.2l7.3 -3.4l3.3 -1l3 -.2l3 .4l3.8 1.2l1.7 .8l2 1.6l2.3 2.6l2.4 3.2l2.3 3.8l2.7 5.4l2.2 5l1.9 5.2l1.4 4.8l1.3 5.4l2.3 13.3l1.4 11.9l1.2 14.4l2.7 46.4l18.6 371.6l3.5 50.9l5.9 70.2l2.5 22.9l2.5 18.3l2.8 14.2l3.1 11.6l1.7 5.2l2.2 5.6l1.9 4.1l1.8 3l2.8 3.5l5.2 4.7l1.6 1.1l1.3 .5l6 .1l2.4 -.5l2.6 -1.5l5.6 -4.2l2.3 -1.9l1.8 -1.8l1.5 -1.9l5.4 -9.1l7 -10.3l1.5 -2.6l2.5 -5.4l1 -1.7l.7 -.7l1.2 -.8l5.1 -2l3 -1.8l3.8 -3.2l3.7 -4l2.3 -3.3l1.6 -3.7l.7 -2.4l2.1 -9.7l3.2 -9l1.3 -5.3l7.1 -45.5l2.9 -21.3l2.8 -24.3l3.7 -37.8l3.2 -41.4l19.2 -276.3l2.9 -37.4l3 -30.9l2.9 -23.8l2.8 -17.3l2.2 -16.3l1.1 -5.9l3.8 -14.5l1.6 -4.8l1.6 -3.6l1.8 -3l1.7 -2.4l1.1 -.8l.8 0l1.3 .5l4.4 4.7l2.1 2.7l1.2 2.8l.8 3.4l1.8 11.3l3.6 17.7l4 22.6l1 6.9l2.1 21.9l2.6 20.9l2.2 21.4l3 24.3l1 10.4l1.7 25.5l2 45.4l1.4 20l1.6 17.9l5.1 44.2l7.3 74.2l4.5 41.2l5.5 45.2l4.2 32.7l2.7 18.8l2.2 13.3l3.7 19.7l2.3 10.7l2.2 7.7l3.2 7.9l1.6 3.1l1.3 2.2l1.6 1.8l1.9 1.7l2.1 1.3l1.8 .8l1.4 0l.9 -.3l1.1 -.9l.9 -1.1l7.3 -12l2.1 -3.9l2.1 -4.6l3.7 -9.8l4.6 -14.3l4.8 -15.8l4.8 -18.9l2.1 -6.6l1.2 -2.8l1.5 -2.6l4.8 -6.4l1.8 -3l2 -4.6l2.1 -6.6l2.4 -9.2l3.6 -15.1l4.8 -23.5l4 -22.6l6.9 -45.5l5.1 -27.1l5 -23.4l7.3 -28.1l3.1 -13.6l2.2 -12.8l6.1 -39.6l1.6 -8.3l2.6 -11.2l2.8 -11.7l2.2 -8.2l2.1 -6.7l2 -4.6l2.1 -3.4l3.6 -4.1l3 -2.6l3 -1.8l1.4 -.5l1.4 -.1l1.4 .2l1.3 .7l1.2 1l1.3 1.5l2.9 4.6l5.3 10.2l2.1 5.1l2.9 8.5l3.5 12.5l8.5 33.4l9.2 41.5l4.3 20.6l16.4 83.4l6.3 30.9l5 25.5l2.5 11.2l2.1 7.7l1.1 3.3l1.3 2.7l1.6 2.6l2.1 2.8l7.4 8.1l2.4 2.5l2.9 2l1.3 .6l1 .1l.9 -.1l1.4 -.4l2 -1.5l2.1 -2.7l2.6 -4.3l3.2 -6.8l6.5 -14.6l2.4 -6.1l2.6 -8.1l3.6 -11.9l15.8 -56.4l4.5 -16.9l4 -16l4.8 -22.5l11.4 -58.9l7.9 -36.1l3.3 -13.6l1.6 -5.3l1.5 -4.2l6.1 -12.6l2.2 -3.9l2 -2.9l2.1 -2.1l1.7 -1.1l1.3 -.3l1.5 .2l1.3 .6l1.5 1.3l1.6 1.9l1.7 2.4l4.1 7.5l4.9 9.8l3 7.4l3.8 11.4l4.2 14.4l2.9 11.7l3.3 15.6l18.3 98.3l9.5 48.1l4.5 19.5l5.4 18.2l3 9l2.6 6.5l2.3 4.5l3 4.5l3.9 5.2l1.7 1.9l1.5 1.3l1.2 .8l1.4 .6l1.5 .2l1.9 .1l6 0l2 -.4l2.2 -1l2.2 -2l1.9 -2.3l2.1 -2.9l5.2 -8.5l2.2 -4.5l2 -5.6l2.3 -7.2l2.6 -9.6l10.2 -41.8l4.3 -18.5l9.8 -45.5l11.5 -50.2l5.1 -21.4l10.3 -40.1l3.7 -12l1.5 -4.2l1.7 -3.7l4.3 -8.4l2.8 -4.8l2.7 -3.5l2.3 -1.9l1.3 -.6l1.4 -.1l1.4 .4l1.8 .9l1.5 1.3l1.6 1.9l4.1 5.7l3.7 5.9l2.3 5l2.7 7.5l3.3 11l5.2 18.8l3.9 17.1l26.5 131.9l3.9 18.6l2.6 10.7l3 11l3.4 11.6l2.9 9l2.8 7l2.6 5.3l4.4 7.3l2 2.9l2 2.3l2.9 2.7l5.1 3.1l4.1 1.8l1.9 .5l2 .3l2.4 -.4l1.3 -.6l1.2 -.9l2.4 -2.5l2.9 -4.1l4.1 -6.9l2.9 -5.3l2.2 -5.5l2.5 -7.6l4.9 -18.4l8.6 -36l3.7 -18.1l11 -56.9l10.1 -48l6.5 -27.7l7.6 -29.6l2 -7.2l1.8 -5.2l1.6 -3.7l2 -3.4l3.7 -5.3l3.3 -3.8l2.7 -2.2l1.4 -.6l1.4 -.3l.9 0l1.4 .4l1.3 .8l1.1 .9l2.9 3.5l3.7 5.9l4.5 8.4l2.7 6.4l2.5 7.6l2.9 9.6l6.3 23.2l2.3 9.2l10.2 44.8l12.2 50.6l2.6 11.7l7.1 35.8l2.1 8.8l2.3 8.1l5.7 17.1l5.4 17.2l1.8 4.6l3 5.8l4.2 6.8l1.9 2.3l1.7 1.8l2 1.5l3 1.7l2.4 .9l1.9 .3l1.5 -.1l1.9 -.5l2.3 -1l2.1 -1.3l1.7 -1.1l1.5 -1.4l2.3 -3.2l3.3 -6.7l6.7 -15.1l4.2 -11.2l4.1 -12.4l2.1 -7.7l2.5 -9.7l11.8 -50.6l27.3 -125.6l2.4 -9.2l2.8 -8.5l3.4 -8.3l6.1 -12.7l2.1 -4l1.7 -2.3l1.2 -.9l1.9 -.4l11.4 0"/>
</defs>
<use href="#b1" fill="none" stroke="#d4f7ce" stroke-width="4.4" stroke-linejoin="round" transform="translate(1.2 0)"/>
<use href="#b0" fill="none" stroke="#720c0c" stroke-width="1.7" stroke-linejoin="round"/>
<use href="#b1" fill="none" stroke="#42a542" stroke-width="1.8" stroke-linejoin="round"/>
<use href="#b2" fill="none" stroke="#0a0a68" stroke-width="1.8" stroke-linejoin="round"/>
<line x1="396.0" y1="1007.3" x2="473.0" y2="1007.3" stroke="#720c0c" stroke-width="2"/>
<line x1="396.0" y1="1062.7" x2="473.0" y2="1062.7" stroke="#0a0a68" stroke-width="2"/>
<line x1="396.0" y1="1125.0" x2="473.0" y2="1125.0" stroke="#42a542" stroke-width="2"/>
<path d="M129.3 1824.5v-11M129.3 998.3v11M265.0 1824.5v-11M265.0 998.3v11M400.8 1824.5v-11M400.8 998.3v11M536.5 1824.5v-11M536.5 998.3v11M672.2 1824.5v-11M672.2 998.3v11M808.0 1824.5v-11M808.0 998.3v11M943.7 1824.5v-11M943.7 998.3v11M1079.4 1824.5v-11M1079.4 998.3v11M1215.1 1824.5v-11M1215.1 998.3v11M1350.9 1824.5v-11M1350.9 998.3v11M1486.6 1824.5v-11M1486.6 998.3v11M129.3 1824.5h11M1486.6 1824.5h-11M129.3 1732.7h11M1486.6 1732.7h-11M129.3 1640.9h11M1486.6 1640.9h-11M129.3 1549.1h11M1486.6 1549.1h-11M129.3 1457.3h11M1486.6 1457.3h-11M129.3 1365.5h11M1486.6 1365.5h-11M129.3 1273.7h11M1486.6 1273.7h-11M129.3 1181.9h11M1486.6 1181.9h-11M129.3 1090.1h11M1486.6 1090.1h-11M129.3 998.3h11M1486.6 998.3h-11" stroke="#000" stroke-width="1.8" fill="none"/>
<rect x="129.3" y="998.3" width="1357.3" height="826.2" fill="none" stroke="#000" stroke-width="2"/>
<text x="127.1" y="1875.0" font-size="33.5" text-anchor="middle">0</text>
<text x="263.0" y="1875.0" font-size="33.5" text-anchor="middle">0.5</text>
<text x="400.1" y="1875.0" font-size="33.5" text-anchor="middle">1</text>
<text x="535.8" y="1875.0" font-size="33.5" text-anchor="middle">1.5</text>
<text x="671.5" y="1875.0" font-size="33.5" text-anchor="middle">2</text>
<text x="808.0" y="1875.0" font-size="33.5" text-anchor="middle">2.5</text>
<text x="943.0" y="1875.0" font-size="33.5" text-anchor="middle">3</text>
<text x="1078.7" y="1875.0" font-size="33.5" text-anchor="middle">3.5</text>
<text x="1214.4" y="1875.0" font-size="33.5" text-anchor="middle">4</text>
<text x="1350.2" y="1875.0" font-size="33.5" text-anchor="middle">4.5</text>
<text x="1486.6" y="1875.0" font-size="33.5" text-anchor="middle">5</text>
<text x="112.7" y="1842.0" font-size="33.5" text-anchor="end">0</text>
<text x="112.7" y="1750.0" font-size="33.5" text-anchor="end">0.5</text>
<text x="112.7" y="1655.5" font-size="33.5" text-anchor="end">1</text>
<text x="112.7" y="1565.7" font-size="33.5" text-anchor="end">1.5</text>
<text x="112.7" y="1471.7" font-size="33.5" text-anchor="end">2</text>
<text x="112.7" y="1382.3" font-size="33.5" text-anchor="end">2.5</text>
<text x="112.7" y="1287.5" font-size="33.5" text-anchor="end">3</text>
<text x="112.7" y="1196.7" font-size="33.5" text-anchor="end">3.5</text>
<text x="112.7" y="1102.9" font-size="33.5" text-anchor="end">4</text>
<text x="112.7" y="1012.6" font-size="33.5" text-anchor="end">4.5</text>
<text x="807.7" y="1930.1" font-size="39.4" text-anchor="middle">time</text>
<text transform="translate(45.0 1409.5) rotate(-90)" x="0" y="0" font-size="39.4" text-anchor="middle">Concentration A</text>
<path d="M1407.5 1919.5l15 15.5M1422.5 1919.5l-15 15.5" stroke="#000" stroke-width="1.6" fill="none"/>
<text x="1431.0" y="1935.2" font-size="33.5">10</text>
<text x="1468.7" y="1919.5" font-size="27">4</text>
<text class="serif" x="1.0" y="1014.5" font-size="48" textLength="60.5" lengthAdjust="spacingAndGlyphs">(b)</text>
<text x="481.34" y="1022.00" font-size="30" textLength="82.62" lengthAdjust="spacingAndGlyphs">Fuzzy</text>
<text x="481.35" y="1071.50" font-size="30" textLength="68.64" lengthAdjust="spacingAndGlyphs">PD(k</text>
<text x="551.00" y="1087.10" font-size="22" textLength="14.58" lengthAdjust="spacingAndGlyphs">p</text>
<text x="567.82" y="1071.50" font-size="30" textLength="258.57" lengthAdjust="spacingAndGlyphs">=[0.21,0.05,0.05],k</text>
<text x="826.93" y="1087.10" font-size="22" textLength="13.97" lengthAdjust="spacingAndGlyphs">d</text>
<text x="842.51" y="1071.50" font-size="30" textLength="281.36" lengthAdjust="spacingAndGlyphs">=[0.01,0.001,0.001])</text>
<text x="481.35" y="1131.30" font-size="30" textLength="77.25" lengthAdjust="spacingAndGlyphs">PID(k</text>
<text x="559.15" y="1146.90" font-size="22" textLength="13.22" lengthAdjust="spacingAndGlyphs">p</text>
<text x="575.23" y="1131.30" font-size="30" textLength="240.81" lengthAdjust="spacingAndGlyphs">=[0.2,0.05,0.05],k</text>
<text x="819.18" y="1146.90" font-size="22" textLength="13.35" lengthAdjust="spacingAndGlyphs">d</text>
<text x="834.62" y="1131.30" font-size="30" textLength="293.37" lengthAdjust="spacingAndGlyphs">=[0.01,0.001,0.001],k</text>
<text x="1131.60" y="1146.90" font-size="22" fill="#555">i</text>
<text x="1136.53" y="1131.30" font-size="30" textLength="347.72" lengthAdjust="spacingAndGlyphs">=[0.0002,0.0002,0.0002])</text>
</svg></body></html>
